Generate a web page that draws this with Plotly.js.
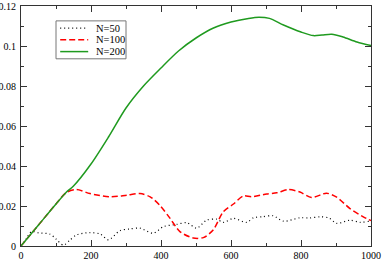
<!DOCTYPE html>
<html><head><meta charset="utf-8">
<script src="https://cdn.plot.ly/plotly-3.0.1.min.js"></script>
<style>html,body{margin:0;padding:0;background:#fff}#c{width:382px;height:261px}</style>
</head><body><div id="c"></div>
<script>
const seriesNames = ["N=50", "N=100", "N=200"];

const xN50 = [0, 15, 30, 50, 83, 100, 121, 140, 159, 197, 226, 250, 283, 310, 340, 378, 407, 445, 473, 502, 530, 559, 578, 607, 645, 664, 690, 721, 750, 797, 825, 854, 880, 902, 940, 969, 997, 1000];
const yN50 = [0, 0.0036, 0.0072, 0.0066, 0.0059, 0.0035, 0.0004, 0.0030, 0.0056, 0.0067, 0.0060, 0.0031, 0.0077, 0.0085, 0.0089, 0.0064, 0.0097, 0.0108, 0.0117, 0.0089, 0.0129, 0.0134, 0.0118, 0.0138, 0.0118, 0.0141, 0.0146, 0.0151, 0.0124, 0.0141, 0.0140, 0.0146, 0.0140, 0.0113, 0.0129, 0.0118, 0.0124, 0.0124];

const xN100 = [0, 50, 100, 130, 159, 197, 254, 302, 340, 369, 397, 426, 454, 492, 521, 549, 578, 607, 635, 659, 702, 731, 764, 797, 830, 873, 902, 940, 978, 1000];
const yN100 = [0, 0.0105, 0.0210, 0.0268, 0.0282, 0.0262, 0.0246, 0.0254, 0.0262, 0.0246, 0.0203, 0.0138, 0.0072, 0.0040, 0.0042, 0.0080, 0.0171, 0.0210, 0.0250, 0.0246, 0.0260, 0.0266, 0.0282, 0.0270, 0.0242, 0.0264, 0.0244, 0.0187, 0.0146, 0.0127];

const xN200 = [0, 50, 100, 130, 150, 200, 250, 300, 350, 400, 450, 500, 550, 600, 650, 680, 710, 750, 800, 835, 860, 888, 920, 960, 1000];
const yN200 = [0, 0.0105, 0.0210, 0.0270, 0.0300, 0.0410, 0.0545, 0.0690, 0.0800, 0.0890, 0.0975, 0.1040, 0.1090, 0.1120, 0.1138, 0.1144, 0.1138, 0.1105, 0.1070, 0.1052, 0.1055, 0.1059, 0.1045, 0.1020, 0.1002];

const xTicks = [0, 200, 400, 600, 800, 1000];
const yTicks = [0, 0.02, 0.04, 0.06, 0.08, 0.1, 0.12];
const yTickText = ["0", "0.02", "0.04", "0.06", "0.08", "0.1", "0.12"];

const colors = ["#000000", "#ff0000", "#1f9a1f"];
const dashes = ["1px,3px", "6px,3px", "solid"];
const widths = [1.2, 1.5, 1.5];

const traces = [
  {x: xN50, y: yN50, name: seriesNames[0], mode: "lines", line: {color: colors[0], dash: dashes[0], width: widths[0], shape: "spline", smoothing: 0.8}},
  {x: xN100, y: yN100, name: seriesNames[1], mode: "lines", line: {color: colors[1], dash: dashes[1], width: widths[1], shape: "spline", smoothing: 0.8}},
  {x: xN200, y: yN200, name: seriesNames[2], mode: "lines", line: {color: colors[2], dash: dashes[2], width: widths[2], shape: "spline", smoothing: 0.8}}
];

const FONT = "Liberation Serif, Times New Roman, serif";

// manual legend in paper coords
const L = {x0: 0.1, x1: 0.3, y0: 0.78, y1: 0.938};
const shapes = [{type: "rect", xref: "paper", yref: "paper", x0: L.x0, x1: L.x1, y0: L.y0, y1: L.y1, line: {color: "#777", width: 1}, fillcolor: "#fff", layer: "above"}];
const annotations = [];
const rowY = [0.908, 0.859, 0.810];
for (let i = 0; i < 3; i++) {
  shapes.push({type: "line", xref: "paper", yref: "paper", x0: 0.112, x1: 0.192, y0: rowY[i], y1: rowY[i], line: {color: colors[i], dash: dashes[i], width: widths[i]}, layer: "above"});
  annotations.push({xref: "paper", yref: "paper", x: 0.21, y: rowY[i], xanchor: "left", yanchor: "middle", text: seriesNames[i], showarrow: false, borderpad: 0, font: {family: FONT, size: 10.5, color: "#000"}});
}

const axisCommon = {
  showline: true, linecolor: "#333", linewidth: 1, mirror: "ticks",
  ticks: "inside", ticklen: 6, tickwidth: 1, tickcolor: "#333",
  showgrid: false, zeroline: false, automargin: false,
  ticklabeloverflow: "allow",
  tickfont: {family: FONT, size: 10, color: "#000"},
  minor: {ticks: "inside", ticklen: 3, tickwidth: 1, tickcolor: "#333", showgrid: false}
};

const layout = {
  width: 382, height: 261,
  margin: {l: 21, r: 11, t: 6, b: 15, pad: 0},
  paper_bgcolor: "#fff", plot_bgcolor: "#fff",
  showlegend: false,
  xaxis: Object.assign({}, axisCommon, {range: [0, 1000], tickvals: xTicks, minor: Object.assign({}, axisCommon.minor, {dtick: 100, tick0: 0}), ticklabelstandoff: 0}),
  yaxis: Object.assign({}, axisCommon, {range: [0, 0.12], tickvals: yTicks, ticktext: yTickText, minor: Object.assign({}, axisCommon.minor, {dtick: 0.01, tick0: 0}), ticklabelstandoff: 2}),
  shapes: shapes, annotations: annotations
};

Plotly.newPlot("c", traces, layout, {staticPlot: true, displayModeBar: false});
</script></body></html>
